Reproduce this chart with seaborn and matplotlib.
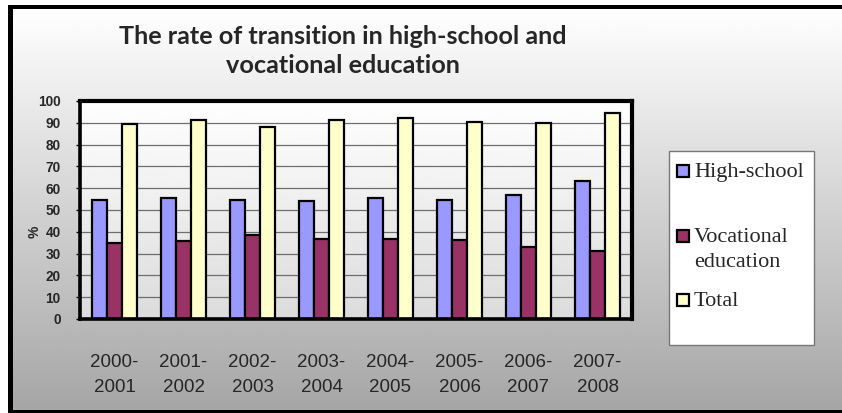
import numpy as np
import pandas as pd
import matplotlib
matplotlib.use("Agg")
import matplotlib.pyplot as plt
from matplotlib.patches import Rectangle
import seaborn as sns

# ---- data -------------------------------------------------------------
periods = ["2000-\n2001", "2001-\n2002", "2002-\n2003", "2003-\n2004",
           "2004-\n2005", "2005-\n2006", "2006-\n2007", "2007-\n2008"]
high_school = [54.4, 55.5, 54.7, 54.1, 55.5, 54.4, 57.0, 63.3]
vocational = [34.8, 35.8, 38.5, 36.8, 36.8, 36.1, 33.2, 31.4]
total = [89.3, 91.2, 88.3, 91.2, 92.0, 90.4, 90.1, 94.6]
series_names = ["High-school", "Vocational\neducation", "Total"]
series_colors = ["#9999FF", "#993366", "#FFFFCC"]
y_ticks = list(range(0, 101, 10))
title = "The rate of transition in high-school and\nvocational education"
y_label = "%"

df = pd.DataFrame({
    "period": periods * 3,
    "series": np.repeat(series_names, len(periods)),
    "value": high_school + vocational + total,
})

# ---- figure -----------------------------------------------------------
sns.set_style("white")
plt.rcParams["font.family"] = ["Liberation Sans", "DejaVu Sans"]

W, H = 842, 413
fig = plt.figure(figsize=(W / 100, H / 100), dpi=100)
fig.patch.set_facecolor("white")


def fbox(x0, y0, x1, y1):
    """Pixel box (top-left origin) -> figure fraction rect."""
    return [x0 / W, 1 - y1 / H, (x1 - x0) / W, (y1 - y0) / H]


# page background: vertical white-to-grey gradient with a black frame
bg = fig.add_axes([0, 0, 1, 1], zorder=-10)
bg.set_xlim(0, W)
bg.set_ylim(H, 0)
bg.set_axis_off()
grad = np.linspace(1.0, 0.65, 256).reshape(-1, 1)
bg.imshow(grad, cmap="gray", vmin=0, vmax=1, aspect="auto",
          extent=[13, W, 410, 9], interpolation="bicubic")
for r in [(8, 5, 5, H - 5), (8, 5, W - 8, 4), (8, 410, W - 8, 3)]:
    bg.add_patch(Rectangle(r[:2], r[2], r[3], facecolor="black", edgecolor="none"))

# plot-area background gradient
plot_rect = fbox(80, 101, 632, 319)
pbg = fig.add_axes(plot_rect, zorder=-5)
pbg.set_axis_off()
pbg.imshow(np.linspace(1.0, 0.86, 256).reshape(-1, 1), cmap="gray",
           vmin=0, vmax=1, aspect="auto", extent=[0, 1, 0, 1])
pbg.set_xlim(0, 1)
pbg.set_ylim(0, 1)

ax = fig.add_axes(plot_rect, zorder=0)
ax.patch.set_alpha(0)

sns.barplot(data=df, x="period", y="value", hue="series",
            order=periods, hue_order=series_names, palette=series_colors,
            saturation=1, width=0.665, edgecolor="black", linewidth=1.6,
            legend=False, ax=ax, zorder=3)

ax.set_xlim(-0.5, len(periods) - 0.5)
ax.set_ylim(0, 100)
ax.set_yticks(y_ticks)
ax.set_yticklabels([str(t) for t in y_ticks], fontsize=9.8, fontweight="bold")
ax.yaxis.grid(True, color="#6e6e6e", linewidth=0.9)
ax.xaxis.grid(False)
ax.set_axisbelow(True)

ax.set_xticks(range(len(periods)))
ax.set_xticklabels(periods, fontsize=13.5, linespacing=1.56)
ax.set_xticks(np.arange(-0.5, len(periods), 1), minor=True)
ax.tick_params(axis="x", which="major", length=0, pad=25.5)
ax.tick_params(axis="x", which="minor", length=4, width=1, color="#444444",
               direction="out")
ax.tick_params(axis="y", which="major", length=3, width=1, color="black",
               direction="out", pad=11, left=True)

ax.set_xlabel("")
ax.set_ylabel(y_label, fontsize=10, fontweight="bold")
ax.yaxis.set_label_coords(-0.07, 0.40)

for side in ["left", "bottom", "top", "right"]:
    ax.spines[side].set_visible(True)
    ax.spines[side].set_color("black")
    ax.spines[side].set_linewidth(2.6)
    ax.spines[side].set_zorder(5)
ax.spines["top"].set_linewidth(3.0)
ax.spines["right"].set_linewidth(3.0)

# title
fig.text(343 / W, 1 - 51 / H, title, ha="center", va="center",
         fontsize=18.2, fontweight="bold", linespacing=1.3,
         family=["Lato", "Liberation Sans", "DejaVu Sans"])

# legend box with swatches and serif labels
bg.add_patch(Rectangle((669, 151), 145, 194, facecolor="white",
                       edgecolor="#777777", linewidth=1, zorder=2))
swatch_y = [165, 230, 294]
label_y = [172, 250, 301]
for name, color, sy, ly in zip(series_names, series_colors, swatch_y, label_y):
    bg.add_patch(Rectangle((677, sy), 12, 12, facecolor=color,
                           edgecolor="black", linewidth=1.6, zorder=3))
    bg.text(694, ly, name, ha="left", va="center", fontsize=16,
            family=["Liberation Serif", "DejaVu Serif"], linespacing=1.45,
            zorder=4)

fig.savefig("out.png", dpi=100)
